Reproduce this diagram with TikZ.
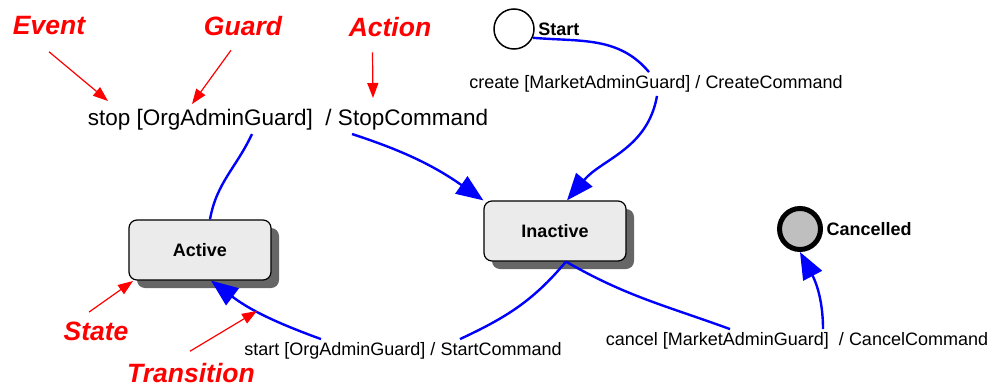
\documentclass[tikz,border=0pt]{standalone}
\usepackage{fontspec}
\setmainfont{Liberation Sans}
\usetikzlibrary{arrows.meta,shadows}

\begin{document}
\begin{tikzpicture}[x=1pt,y=-1pt]
\tikzstyle{state}=[rectangle, rounded corners=8pt, draw=black, line width=1.2pt, fill=black!8, minimum width=142pt, minimum height=60pt, font=\bfseries\fontsize{18}{20}\selectfont, drop shadow={shadow xshift=8pt, shadow yshift=-8pt, fill=black!60, opacity=1}]
\tikzstyle{startstate}=[circle, draw=black, line width=1.5pt, fill=white, minimum size=40pt, inner sep=0pt]
\tikzstyle{finalstate}=[circle, draw=black, line width=5pt, fill=black!25, minimum size=41pt, inner sep=0pt]
\tikzstyle{statelbl}=[font=\bfseries\fontsize{18}{20}\selectfont]
\tikzstyle{lbl}=[font=\fontsize{18}{20}\selectfont]
\tikzstyle{note}=[red, font=\bfseries\itshape\fontsize{26.5}{29}\selectfont]
\tikzstyle{trans}=[draw=blue, line width=2.4pt]
\tikzstyle{connect}=[trans, -{Triangle[length=27pt,width=21pt]}]
\tikzstyle{pointer}=[red, line width=1.2pt, -{Triangle[length=15pt,width=11pt]}]
  \useasboundingbox (0,0) rectangle (990,388);
  \node[state] (active) at (200,250) {Active};
  \node[state] (inactive) at (555,231) {Inactive};
  \node[startstate, label={[statelbl]right:Start}] (start) at (514,29) {};
  \node[finalstate, label={[statelbl]right:Cancelled}] (cancelled) at (800,229) {};
  \node[lbl, font=\fontsize{22.5}{25}\selectfont] (stop) at (288,120) {stop [OrgAdminGuard]\ \ / StopCommand};
  \node[lbl] (create) at (656,84) {create [MarketAdminGuard] / CreateCommand};
  \node[lbl] (startcmd) at (403,351) {start [OrgAdminGuard] / StartCommand};
  \node[lbl] (cancel) at (797,341) {cancel [MarketAdminGuard]\ \ / CancelCommand};
  \node[note] (event) at (49,26) {Event};
  \node[note] (guard) at (243,26) {Guard};
  \node[note] (action) at (390,27) {Action};
  \node[note] (statenote) at (96,331) {State};
  \node[note] (transnote) at (191,373) {Transition};
  \coordinate (eventtip) at (108,101);
  \coordinate (guardtip) at (192,104);
  \coordinate (actiontip) at (373,98);
  \coordinate (statetip) at (133,281);
  \coordinate (transtip) at (257,311);
  \draw[trans] ([xshift=10pt]active.north) to[out=80,in=-115] ([xshift=-36pt]stop.south);
  \draw[connect] ([xshift=64pt]stop.south) to[out=-18,in=145] (inactive.north west);
  \draw[trans] (start.-25) to[out=-5,in=130] ([xshift=-7pt]create.north);
  \draw[connect] ([xshift=1pt]create.south) to[out=-100,in=50] ([xshift=12pt]inactive.north);
  \draw[trans] ([xshift=11pt]inactive.south) to[out=-130,in=25] ([xshift=57pt]startcmd.north);
  \draw[connect] ([xshift=-82pt]startcmd.north) to[out=160,in=-37] ([xshift=11pt]active.south);
  \draw[trans] ([xshift=11pt]inactive.south) to[out=-30,in=160] ([xshift=-67pt]cancel.north);
  \draw[connect] ([xshift=26pt]cancel.north) to[out=90,in=-62] (cancelled.south);
  \draw[pointer] ([yshift=-13pt]event.south) -- (eventtip);
  \draw[pointer] ([xshift=-12pt,yshift=-11pt]guard.south) -- (guardtip);
  \draw[pointer] ([xshift=-17.5pt,yshift=-12pt]action.south) -- (actiontip);
  \draw[pointer] ([xshift=-7pt,yshift=6pt]statenote.north) -- (statetip);
  \draw[pointer] ([xshift=-1pt,yshift=8.5pt]transnote.north) -- (transtip);
\end{tikzpicture}
\end{document}
